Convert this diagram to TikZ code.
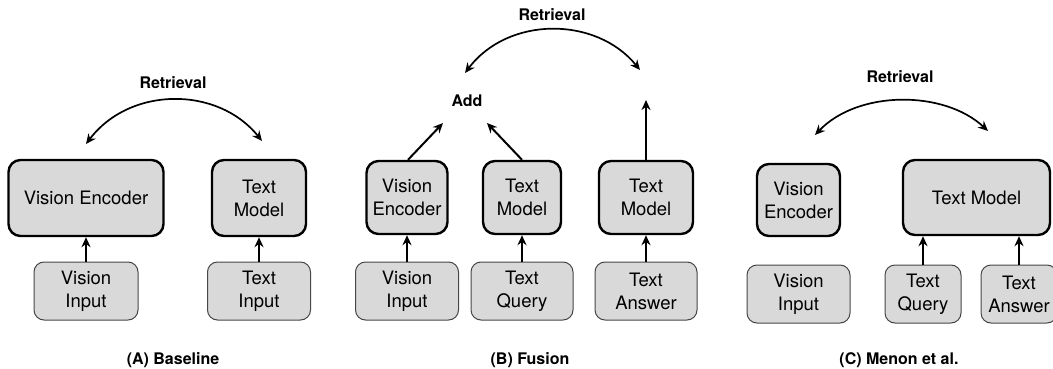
\documentclass[tikz,border=0pt]{standalone}
\usepackage{fontspec}
\setmainfont{TeX Gyre Heros}
\usetikzlibrary{arrows.meta}
\definecolor{boxfill}{RGB}{217,217,217}
\definecolor{inborder}{RGB}{70,70,70}
\tikzset{
  modelbox/.style={draw=black, line width=2.4pt, fill=boxfill, rounded corners=12pt,
    align=center, inner sep=0pt, font=\fontsize{18.5}{23}\selectfont},
  inbox/.style={draw=inborder, line width=1pt, fill=boxfill, rounded corners=10pt,
    align=center, inner sep=0pt, minimum height=58pt, font=\fontsize{18.5}{23}\selectfont},
  lbl/.style={font=\bfseries\fontsize{16}{19}\selectfont, inner sep=0pt},
  captext/.style={font=\bfseries\fontsize{16}{19}\selectfont, inner sep=0pt},
  arr/.style={line width=2pt, -{Stealth[length=10pt,width=9pt]}},
  retr/.style={line width=1.7pt, {Stealth[length=10pt,width=9pt]}-{Stealth[length=10pt,width=9pt]}}
}
\begin{document}
\begin{tikzpicture}[x=1pt,y=-1pt]
\useasboundingbox (0,0) rectangle (1053,369);
\begin{scope}
\clip (0,0) rectangle (1053,369);
% ---------- Panel A ----------
\node[modelbox, minimum width=155pt, minimum height=76pt] (veA) at (86,198) {Vision Encoder};
\node[modelbox, minimum width=94pt, minimum height=76pt] (tmA) at (259,198) {Text\\Model};
\node[inbox, minimum width=104pt] (viA) at (86,291) {Vision\\Input};
\node[inbox, minimum width=103pt] (tiA) at (259,291) {Text\\Input};
\draw[arr] (viA.north) -- (veA.south);
\draw[arr] (tiA.north) -- (tmA.south);
\node[lbl] (rA) at (173,83) {Retrieval};
\coordinate (rAl) at (86,144);
\coordinate (rAr) at (262,141);
\draw[retr] (rAl) .. controls (130,86) and (218,86) .. (rAr);
\node[captext] (cA) at (173,360) {(A) Baseline};
% ---------- Panel B ----------
\node[modelbox, minimum width=81pt, minimum height=73pt] (veB) at (407,197.5) {Vision\\Encoder};
\node[modelbox, minimum width=78pt, minimum height=73pt] (tmB) at (522,197.5) {Text\\Model};
\node[modelbox, minimum width=94pt, minimum height=73pt] (tmB2) at (646,197.5) {Text\\Model};
\node[inbox, minimum width=103pt] (viB) at (407,291) {Vision\\Input};
\node[inbox, minimum width=102pt] (tqB) at (522,291) {Text\\Query};
\node[inbox, minimum width=102pt] (taB) at (646,291) {Text\\Answer};
\draw[arr] (viB.north) -- (veB.south);
\draw[arr] (tqB.north) -- (tmB.south);
\draw[arr] (taB.north) -- (tmB2.south);
\node[lbl] (add) at (467,101) {Add};
\coordinate (addL) at (443,123);
\coordinate (addR) at (487,123);
\coordinate (ansT) at (646,100);
\draw[arr] ([xshift=1pt]veB.north) -- (addL);
\draw[arr] (tmB.north) -- (addR);
\draw[arr] (tmB2.north) -- (ansT);
\node[lbl] (rB) at (552,15) {Retrieval};
\coordinate (rBl) at (465,73);
\coordinate (rBr) at (640,70);
\draw[retr] (rBl) .. controls (508,16) and (596,16) .. (rBr);
\node[captext] (cB) at (530,360) {(B) Fusion};
% ---------- Panel C ----------
\node[modelbox, minimum width=83pt, minimum height=72pt] (veC) at (798.5,200) {Vision\\Encoder};
\node[modelbox, minimum width=147pt, minimum height=75pt] (tmC) at (976.5,197.5) {Text Model};
\node[inbox, minimum width=103pt] (viC) at (798.5,294) {Vision\\Input};
\node[inbox, minimum width=76pt] (tqC) at (923,294) {Text\\Query};
\node[inbox, minimum width=76pt] (taC) at (1019,294) {Text\\Answer};
\draw[arr] (tqC.north) -- (tqC.north |- tmC.south);
\draw[arr] (taC.north) -- (taC.north |- tmC.south);
\node[lbl] (rC) at (900,77) {Retrieval};
\coordinate (rCl) at (815,135);
\coordinate (rCr) at (988,131);
\draw[retr] (rCl) .. controls (858,90) and (944,90) .. (rCr);
\node[captext] (cC) at (899,360) {(C) Menon et al.};
\end{scope}
\end{tikzpicture}
\end{document}
